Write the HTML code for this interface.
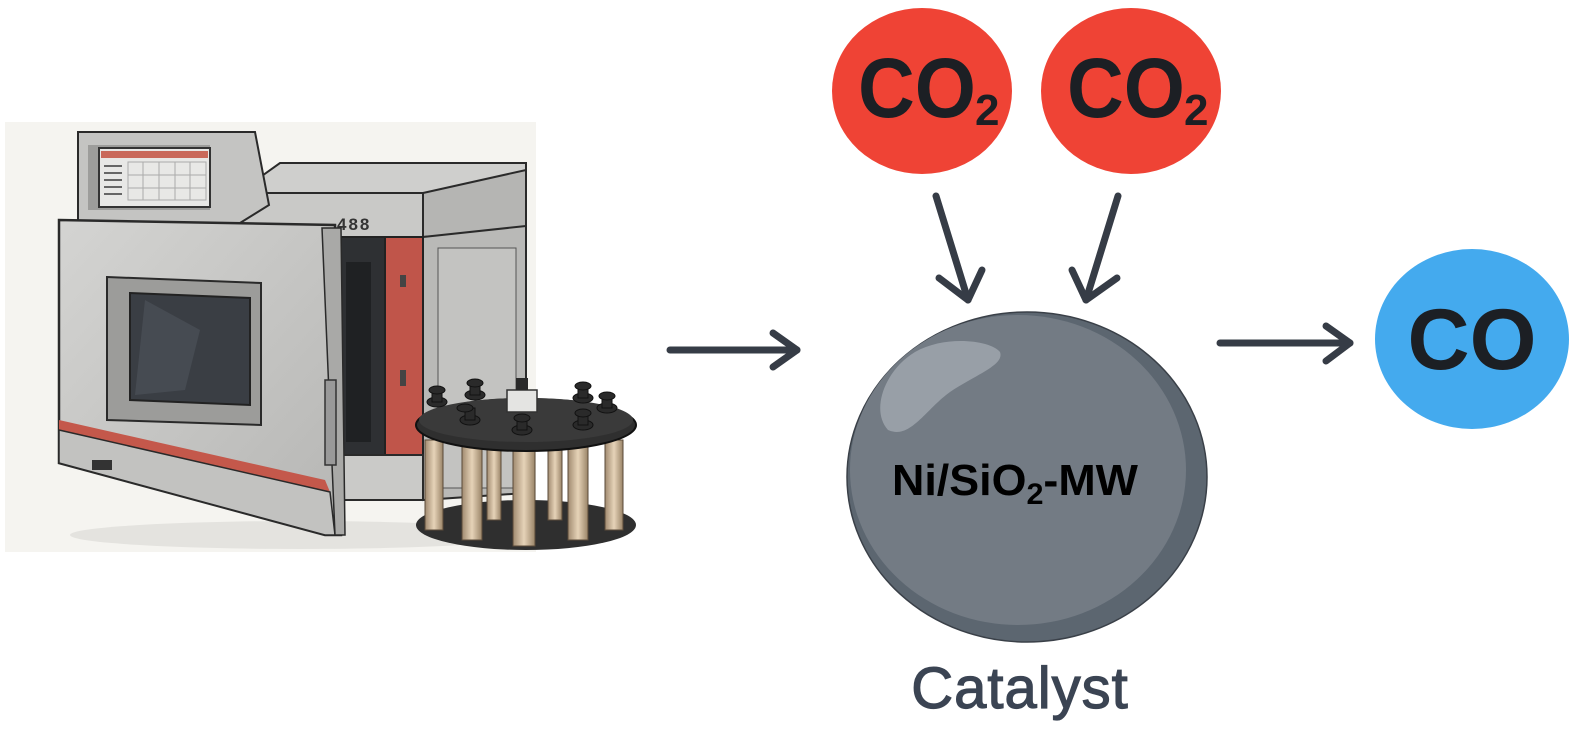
<!DOCTYPE html>
<html><head><meta charset="utf-8"><style>
html,body{margin:0;padding:0;background:#fff;}
svg{display:block;}
</style></head><body>
<svg width="1578" height="731" viewBox="0 0 1578 731" xmlns="http://www.w3.org/2000/svg" font-family="Liberation Sans, sans-serif">
<defs>
<linearGradient id="door" x1="0" y1="0" x2="1" y2="1"><stop offset="0" stop-color="#d4d4d2"/><stop offset="1" stop-color="#b6b6b4"/></linearGradient>
<linearGradient id="tube" x1="0" x2="1"><stop offset="0" stop-color="#a08a70"/><stop offset="0.5" stop-color="#e6d3b8"/><stop offset="1" stop-color="#9a8468"/></linearGradient>
</defs>
<rect x="5" y="122" width="531" height="430" fill="#f5f4f0"/>
<ellipse cx="300" cy="535" rx="230" ry="14" fill="#e4e3df"/>
<polygon points="238,193 280,163 526,163 526,193 423,237 238,237" fill="#cfcfcd" stroke="#2a2a2a" stroke-width="2"/>
<polygon points="238,193 423,193 423,237 238,237" fill="#c9c9c7" stroke="#2a2a2a" stroke-width="2"/>
<polygon points="423,193 526,170 526,230 423,237" fill="#b5b5b3" stroke="#2a2a2a" stroke-width="2"/>
<text x="337" y="230" font-size="17" font-weight="bold" fill="#333" letter-spacing="2">488</text>
<polygon points="423,237 526,226 526,493 423,500" fill="#b9b9b7" stroke="#2a2a2a" stroke-width="2"/>
<rect x="438" y="248" width="78" height="240" fill="#c3c3c1" stroke="#555" stroke-width="1"/>
<rect x="341" y="237" width="44" height="218" fill="#2e3033" stroke="#222" stroke-width="2"/>
<rect x="346" y="262" width="25" height="180" fill="#1f2123"/>
<rect x="385" y="237" width="38" height="218" fill="#c0554a" stroke="#222" stroke-width="2"/>
<rect x="400" y="275" width="6" height="12" fill="#444"/>
<rect x="400" y="370" width="6" height="16" fill="#444"/>
<rect x="341" y="455" width="82" height="45" fill="#cacac8" stroke="#2a2a2a" stroke-width="2"/>
<polygon points="78,132 255,132 269,205 240,223 78,223" fill="#c4c4c2" stroke="#2a2a2a" stroke-width="2"/>
<polygon points="88,145 210,145 210,210 88,210" fill="#9d9d9b"/>
<rect x="99" y="148" width="111" height="59" fill="#e8e8e6" stroke="#333" stroke-width="2"/>
<rect x="101" y="151" width="107" height="7" fill="#c9695a"/>
<g stroke="#aaa" stroke-width="1" fill="none">
<rect x="128" y="162" width="78" height="38"/>
<line x1="128" y1="175" x2="206" y2="175"/><line x1="128" y1="188" x2="206" y2="188"/>
<line x1="143" y1="162" x2="143" y2="200"/><line x1="159" y1="162" x2="159" y2="200"/><line x1="175" y1="162" x2="175" y2="200"/><line x1="190" y1="162" x2="190" y2="200"/>
</g>
<g stroke="#666" stroke-width="2"><line x1="104" y1="166" x2="122" y2="166"/><line x1="104" y1="173" x2="122" y2="173"/><line x1="104" y1="180" x2="122" y2="180"/><line x1="104" y1="187" x2="122" y2="187"/><line x1="104" y1="194" x2="122" y2="194"/></g>
<polygon points="59,220 335,225 341,535 325,535 59,463" fill="url(#door)" stroke="#2a2a2a" stroke-width="2.5"/>
<polygon points="59,420 325,480 330,492 59,430" fill="#c4584b"/>
<polygon points="59,430 330,492 335,535 325,535 59,463" fill="#c2c2c0" stroke="#2a2a2a" stroke-width="1.5"/>
<polygon points="322,228 341,228 345,535 335,535" fill="#a9a9a7" stroke="#2a2a2a" stroke-width="1.5"/>
<rect x="325" y="380" width="11" height="85" fill="#999" stroke="#333" stroke-width="1.5"/>
<rect x="92" y="460" width="20" height="10" fill="#333"/>
<polygon points="107,277 261,283 261,425 107,420" fill="#9c9c9a" stroke="#2a2a2a" stroke-width="2"/>
<polygon points="130,293 250,298 250,405 130,400" fill="#3a3e44" stroke="#222" stroke-width="2"/>
<polygon points="145,300 200,330 185,390 135,395" fill="#4a4f56" opacity="0.8"/>
<ellipse cx="526" cy="525" rx="110" ry="25" fill="#2f2f2f"/>
<g stroke="#5a4a38" stroke-width="1">
<rect x="425" y="440" width="18" height="90" fill="url(#tube)"/>
<rect x="462" y="445" width="20" height="95" fill="url(#tube)"/>
<rect x="513" y="448" width="22" height="98" fill="url(#tube)"/>
<rect x="568" y="445" width="20" height="95" fill="url(#tube)"/>
<rect x="605" y="440" width="18" height="90" fill="url(#tube)"/>
<rect x="487" y="440" width="14" height="80" fill="url(#tube)"/>
<rect x="548" y="440" width="14" height="80" fill="url(#tube)"/>
</g>
<ellipse cx="526" cy="425" rx="110" ry="26" fill="#2f2f2f" stroke="#111" stroke-width="2"/>
<ellipse cx="526" cy="420" rx="107" ry="22" fill="#3a3a3a"/>
<g fill="#2a2a2a" stroke="#111" stroke-width="1">
<ellipse cx="437" cy="402" rx="10" ry="5"/><rect x="432" y="390" width="10" height="12"/><ellipse cx="437" cy="390" rx="8" ry="4"/>
<ellipse cx="475" cy="395" rx="10" ry="5"/><rect x="470" y="383" width="10" height="12"/><ellipse cx="475" cy="383" rx="8" ry="4"/>
<ellipse cx="470" cy="420" rx="10" ry="5"/><rect x="465" y="408" width="10" height="12"/><ellipse cx="465" cy="408" rx="8" ry="4"/>
<ellipse cx="522" cy="430" rx="10" ry="5"/><rect x="517" y="418" width="10" height="12"/><ellipse cx="522" cy="418" rx="8" ry="4"/>
<ellipse cx="583" cy="398" rx="10" ry="5"/><rect x="578" y="386" width="10" height="12"/><ellipse cx="583" cy="386" rx="8" ry="4"/>
<ellipse cx="607" cy="408" rx="10" ry="5"/><rect x="602" y="396" width="10" height="12"/><ellipse cx="607" cy="396" rx="8" ry="4"/>
<ellipse cx="583" cy="425" rx="10" ry="5"/><rect x="578" y="413" width="10" height="12"/><ellipse cx="583" cy="413" rx="8" ry="4"/>
</g>
<rect x="507" y="390" width="30" height="22" fill="#e4e4e2" stroke="#333" stroke-width="1.5"/>
<rect x="516" y="378" width="12" height="12" fill="#2a2a2a"/>
<g stroke="#363c46" stroke-width="7" stroke-linecap="round" stroke-linejoin="round" fill="none">
<line x1="670" y1="350" x2="797" y2="350"/><polyline points="773,333 797,350 773,367"/>
<line x1="936" y1="196" x2="968" y2="300"/><polyline points="939,278 968,300 982,270"/>
<line x1="1118" y1="196" x2="1086" y2="300"/><polyline points="1072,270 1086,300 1117,278"/>
<line x1="1220" y1="343" x2="1350" y2="343"/><polyline points="1326,326 1350,343 1326,361"/>
</g>
<ellipse cx="922" cy="91" rx="90" ry="83" fill="#ef4335"/>
<ellipse cx="1131" cy="91" rx="90" ry="83" fill="#ef4335"/>
<g font-weight="bold" fill="#1c1f24">
<text x="858" y="117" font-size="84" textLength="118" lengthAdjust="spacingAndGlyphs">CO</text>
<text x="975" y="125" font-size="44">2</text>
<text x="1067" y="117" font-size="84" textLength="118" lengthAdjust="spacingAndGlyphs">CO</text>
<text x="1184" y="125" font-size="44">2</text>
</g>
<ellipse cx="1472" cy="339" rx="97" ry="90" fill="#44aaee"/>
<text x="1472" y="369" font-size="86" font-weight="bold" fill="#1c1f24" text-anchor="middle">CO</text>
<ellipse cx="1027" cy="477" rx="180" ry="165" fill="#5c6670" stroke="#3a4048" stroke-width="1.5"/>
<ellipse cx="1018" cy="470" rx="168" ry="155" fill="#737b84"/>
<path d="M888,430 C870,410 885,370 915,352 C945,335 990,340 1000,352 C1005,365 975,375 950,392 C925,410 910,440 888,430 Z" fill="#9ca3ab" opacity="0.9"/>
<text x="892" y="495" font-size="44" font-weight="bold" fill="#000" textLength="246" lengthAdjust="spacingAndGlyphs">Ni/SiO<tspan font-size="30" dy="9">2</tspan><tspan dy="-9">-MW</tspan></text>
<text x="1020" y="708" font-size="58" fill="#3b4453" stroke="#3b4453" stroke-width="1.2" text-anchor="middle" letter-spacing="1">Catalyst</text>
</svg>
</body></html>
